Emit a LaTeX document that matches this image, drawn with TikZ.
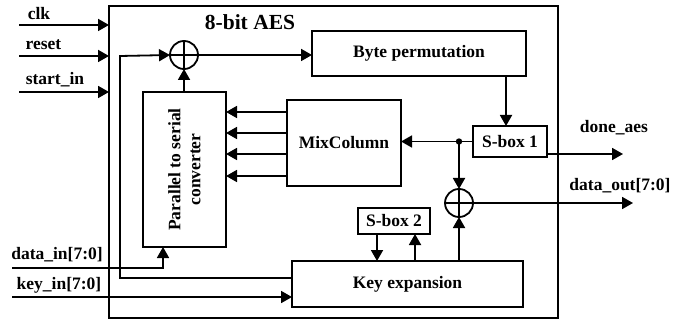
\documentclass[tikz,border=0pt]{standalone}
\usepackage{fontspec}
\setmainfont{Liberation Serif}
\usetikzlibrary{arrows.meta,calc}

\begin{document}
\begin{tikzpicture}[
  x=1pt, y=-1pt,
  font=\fontsize{17.5}{20}\selectfont\bfseries,
  blk/.style={draw=black, line width=1.8pt, fill=white, align=center,
              inner sep=0pt, outer sep=0pt},
  xorc/.style={draw=black, circle, line width=1.8pt, minimum size=28pt,
               inner sep=0pt, outer sep=0pt},
  arr/.style={-{Triangle[length=11pt,width=12pt]}, draw=black, line width=1.8pt},
  lbl/.style={inner sep=0pt}
]
\useasboundingbox (0,0) rectangle (687,320);

\node[blk, minimum width=449pt, minimum height=312pt] (aes) at (333.5,162) {};
\node[lbl, font=\fontsize{21.5}{24}\selectfont\bfseries] (ttl) at (250,22) {8-bit AES};

\node[blk, minimum width=214pt, minimum height=45pt] (bytep) at (419,53.5) {Byte permutation};
\node[blk, minimum width=83pt, minimum height=155pt] (p2s) at (184.5,169.5) {};
\node[lbl, rotate=90, align=center] (p2stxt) at (p2s) {Parallel to serial\\converter};
\node[blk, minimum width=114pt, minimum height=86pt] (mix) at (344,143) {MixColumn};
\node[blk, minimum width=74pt, minimum height=31pt] (sbox1) at (510,141.5) {S-box 1};
\node[blk, minimum width=72pt, minimum height=26pt] (sbox2) at (394,221) {S-box 2};
\node[blk, minimum width=231pt, minimum height=46pt] (kexp) at (407.5,284) {Key expansion};

\node[xorc] (xor1) at (184,55) {};
\node[xorc] (xor2) at (459,203) {};
\draw[line width=1.8pt] (xor1.north) -- (xor1.south) (xor1.west) -- (xor1.east);
\draw[line width=1.8pt] (xor2.north) -- (xor2.south) (xor2.west) -- (xor2.east);

% ports
\coordinate (clk) at (19,25);
\coordinate (rst) at (19,56);
\coordinate (start) at (19,92);
\coordinate (din) at (12,268);
\coordinate (kin) at (12,297);
\coordinate (done) at (623,154);
\coordinate (dout) at (633,203);
\coordinate (fbk) at (120,56);

\node[lbl] (clklbl) at (39,14) {clk};
\node[lbl] (rstlbl) at (43.5,45) {reset};
\node[lbl] (startlbl) at (55,80) {start\_in};
\node[lbl] (dinlbl) at (57,255) {data\_in[7:0]};
\node[lbl] (kinlbl) at (59,285) {key\_in[7:0]};
\node[lbl] (donelbl) at (614,128) {done\_aes};
\node[lbl] (doutlbl) at (620,186) {data\_out[7:0]};

\draw[arr] (clk) -- (clk -| aes.west);
\draw[arr] (rst) -- (rst -| aes.west);
\draw[arr] (start) -- (start -| aes.west);

% data path
\coordinate (kfb) at ($(kexp.west)+(0,-6)$);
\draw[arr] (kfb) -| (fbk) -- (xor1.west);
\draw[arr] (xor1.east) -- (xor1 -| bytep.west);
\draw[arr] (p2s.north -| xor1) -- (xor1.south);
\foreach \dy [count=\i] in {-31,-10,11,33} {
  \coordinate (mo\i) at ($(mix.west)+(0,\dy)$);
  \draw[arr] (mo\i) -- (mo\i -| p2s.east);
}

\coordinate (s1in) at ($(sbox1.north)+(-4,0)$);
\draw[arr] (s1in |- bytep.south) -- (s1in);
\draw[arr] (sbox1.west) -- (sbox1.west -| mix.east);
\coordinate (tap) at (xor2 |- sbox1.west);
\fill (tap) circle (3.2pt);
\draw[arr] (tap) -- (xor2.north);
\draw[arr] (xor2 |- kexp.north) -- (xor2.south);
\draw[arr] (xor2.east) -- (dout);
\draw[arr] (sbox1.east |- done) -- (done);

% key path
\coordinate (s2out) at ($(sbox2.south)+(-17,0)$);
\coordinate (s2in) at ($(sbox2.south)+(21,0)$);
\draw[arr] (s2out) -- (s2out |- kexp.north);
\draw[arr] (s2in |- kexp.north) -- (s2in);

\coordinate (pin) at ($(p2s.south)+(-21.5,0)$);
\draw[arr] (din) -| (pin);
\draw[arr] (kin) -- (kin -| kexp.west);
\end{tikzpicture}
\end{document}
